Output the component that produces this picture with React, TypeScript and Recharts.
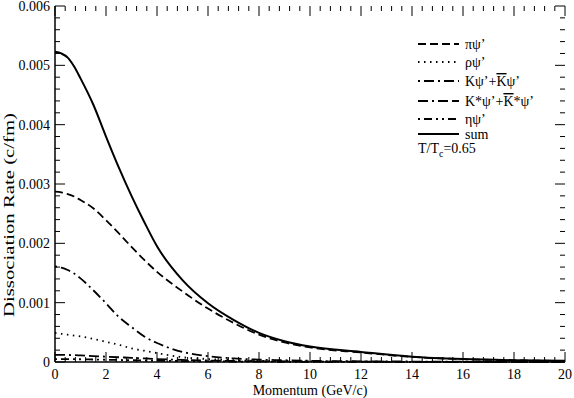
import React from "react";
import { LineChart, Line, XAxis, YAxis, ReferenceLine } from "recharts";

// momentum grid (GeV/c) and dissociation rates (c/fm)
const MOMENTUM = [0, 0.25, 0.5, 0.75, 1, 1.5, 2, 2.5, 3, 3.5, 4, 5, 6, 7, 8, 9, 10, 12, 14, 16, 18, 20];
const PI_PSI = [0.00287, 0.00286, 0.00283, 0.00279, 0.00273, 0.00259, 0.00239, 0.00217, 0.00194, 0.00172, 0.00152, 0.00119, 0.0009, 0.00066, 0.00046, 0.00033, 0.000245, 0.00016, 0.000085, 0.000048, 0.000028, 0.000018];
const RHO_PSI = [0.00049, 0.000475, 0.00046, 0.000445, 0.00043, 0.00039, 0.00034, 0.00029, 0.00023, 0.00019, 0.00015, 0.00008, 0.00005, 0.00003, 0.00002, 0.000013, 0.000009, 0.000005, 0.000003, 0.000002, 0.000001, 0.000001];
const K_PSI = [0.00161, 0.00159, 0.00155, 0.00149, 0.00141, 0.00121, 0.00099, 0.00076, 0.00059, 0.00043, 0.00032, 0.00017, 0.0001, 0.00006, 0.00004, 0.00003, 0.00002, 0.000012, 0.000008, 0.000005, 0.000003, 0.000002];
const KSTAR_PSI = [0.00012, 0.000119, 0.000118, 0.000115, 0.00011, 0.0001, 0.00009, 0.00008, 0.00007, 0.00006, 0.00005, 0.000035, 0.000025, 0.000018, 0.000013, 0.00001, 0.000008, 0.000005, 0.000003, 0.000002, 0.0000015, 0.000001];
const ETA_PSI = [0.00005, 0.0000495, 0.000049, 0.0000475, 0.000046, 0.000042, 0.000038, 0.000034, 0.00003, 0.000026, 0.000022, 0.000016, 0.000011, 0.000008, 0.000006, 0.000004, 0.000003, 0.000002, 0.000001, 0.000001, 0.0000005, 0.0000003];
const SUM = [0.00523, 0.0052, 0.00513, 0.00498, 0.00478, 0.00434, 0.0038, 0.00328, 0.0028, 0.00236, 0.00195, 0.00138, 0.00099, 0.00071, 0.00049, 0.00035, 0.00026, 0.00017, 0.00009, 0.00005, 0.00003, 0.00002];

const X_MAJOR = [0, 2, 4, 6, 8, 10, 12, 14, 16, 18, 20];
const X_MINOR = Array.from({ length: 51 }, (_, i) => +(i * 0.4).toFixed(1));
const Y_MAJOR = [0, 0.001, 0.002, 0.003, 0.004, 0.005, 0.006];
const Y_MINOR = Array.from({ length: 31 }, (_, i) => +(i * 0.0002).toFixed(4));

const X_MAX = 20;
const Y_MAX = 0.006;

const data = MOMENTUM.map((p, i) => ({
  p,
  pi: PI_PSI[i],
  rho: RHO_PSI[i],
  k: K_PSI[i],
  kstar: KSTAR_PSI[i],
  eta: ETA_PSI[i],
  sum: SUM[i],
}));

const FONT = "'Liberation Serif', 'DejaVu Serif', serif";
const TICK_FONT = { fontFamily: FONT, fontSize: 14, fill: "#000" };
const FRAME = { stroke: "#000", strokeWidth: 1.5 };

// plot box in px, used only to turn tick lengths into data units
const PLOT_W = 510;
const PLOT_H = 356;
const isMajor = (v: number, step: number) => Math.abs(v / step - Math.round(v / step)) < 1e-6;
const xLen = (v: number) => ((isMajor(v, 2) ? 10 : 5) * Y_MAX) / PLOT_H;
const yLen = (v: number) => ((isMajor(v, 0.001) ? 10 : 5) * X_MAX) / PLOT_W;

const series = [
  { key: "pi", dash: "8 4", label: "πψ’" },
  { key: "rho", dash: "1.5 4.5", label: "ρψ’" },
  { key: "k", dash: "2 4 10 4", label: "k" },
  { key: "kstar", dash: "10 4 2 4 10 4", label: "kstar" },
  { key: "eta", dash: "2 4 8 4 2 4", label: "ηψ’" },
  { key: "sum", dash: undefined, label: "sum" },
];

function LegendLabel({ k }: { k: string }) {
  if (k === "k")
    return (
      <>
        Kψ’+<tspan style={{ textDecoration: "overline" }}>K</tspan>ψ’
      </>
    );
  if (k === "kstar")
    return (
      <>
        K*ψ’+<tspan style={{ textDecoration: "overline" }}>K</tspan>*ψ’
      </>
    );
  return <>{series.find((s) => s.key === k)?.label}</>;
}

const LEGEND_Y = [44, 62, 81, 101, 119, 134];

export default function App() {
  return (
    <div style={{ position: "absolute", left: 0, top: 0, width: 574, height: 398, background: "#fff" }}>
      <LineChart width={574} height={398} data={data} margin={{ top: 6, right: 9, left: 0, bottom: 0 }}>
        <XAxis
          xAxisId="b"
          dataKey="p"
          type="number"
          domain={[0, X_MAX]}
          ticks={X_MAJOR}
          interval={0}
          height={36}
          tickSize={0}
          tickMargin={7}
          tickLine={false}
          axisLine={FRAME}
          tick={TICK_FONT}
          label={{
            value: "Momentum (GeV/c)",
            position: "insideBottom",
            offset: 3,
            style: { fontFamily: FONT, fontSize: 14, fill: "#000" },
          }}
        />
        <XAxis
          xAxisId="t"
          dataKey="p"
          type="number"
          orientation="top"
          mirror
          height={0}
          domain={[0, X_MAX]}
          tick={false}
          tickLine={false}
          axisLine={FRAME}
        />
        <YAxis
          yAxisId="l"
          type="number"
          domain={[0, Y_MAX]}
          ticks={Y_MAJOR}
          interval={0}
          width={55}
          tickSize={0}
          tickMargin={5}
          tickLine={false}
          axisLine={FRAME}
          tick={TICK_FONT}
          tickFormatter={(v: number) => (v === 0 ? "0" : v.toFixed(3))}
          label={{
            content: () => (
              <text
                x={9}
                y={215}
                transform="rotate(-90 9 215)"
                textAnchor="middle"
                dominantBaseline="central"
                fontFamily={FONT}
                fontSize={15}
                textLength={204}
                lengthAdjust="spacingAndGlyphs"
                fill="#000"
              >
                Dissociation Rate (c/fm)
              </text>
            ),
          }}
        />
        <YAxis
          yAxisId="r"
          type="number"
          orientation="right"
          mirror
          width={0}
          domain={[0, Y_MAX]}
          tick={false}
          tickLine={false}
          axisLine={FRAME}
        />
        {/* inward ticks on all four sides */}
        {X_MINOR.map((v) => (
          <ReferenceLine
            key={`xb${v}`}
            xAxisId="b"
            yAxisId="l"
            ifOverflow="visible"
            segment={[{ x: v, y: 0 }, { x: v, y: xLen(v) }]}
            stroke="#000"
            strokeWidth={1}
          />
        ))}
        {X_MINOR.map((v) => (
          <ReferenceLine
            key={`xt${v}`}
            xAxisId="b"
            yAxisId="l"
            ifOverflow="visible"
            segment={[{ x: v, y: Y_MAX }, { x: v, y: Y_MAX - xLen(v) }]}
            stroke="#000"
            strokeWidth={1}
          />
        ))}
        {Y_MINOR.map((v) => (
          <ReferenceLine
            key={`yl${v}`}
            xAxisId="b"
            yAxisId="l"
            ifOverflow="visible"
            segment={[{ x: 0, y: v }, { x: yLen(v), y: v }]}
            stroke="#000"
            strokeWidth={1}
          />
        ))}
        {Y_MINOR.map((v) => (
          <ReferenceLine
            key={`yr${v}`}
            xAxisId="b"
            yAxisId="l"
            ifOverflow="visible"
            segment={[{ x: X_MAX, y: v }, { x: X_MAX - yLen(v), y: v }]}
            stroke="#000"
            strokeWidth={1}
          />
        ))}
        {series.map((s) => (
          <Line
            key={s.key}
            xAxisId="b"
            yAxisId="l"
            type="monotone"
            dataKey={s.key}
            stroke="#000"
            strokeWidth={s.key === "sum" ? 2 : 1.8}
            strokeDasharray={s.dash}
            dot={false}
            activeDot={false}
            isAnimationActive={false}
          />
        ))}
      </LineChart>
      <svg width={574} height={398} style={{ position: "absolute", left: 0, top: 0, pointerEvents: "none" }}>
        {series.map((s, i) => (
          <g key={s.key}>
            <line x1={418} x2={459} y1={LEGEND_Y[i]} y2={LEGEND_Y[i]} stroke="#000" strokeWidth={s.key === "sum" ? 2 : 1.8} strokeDasharray={s.dash} />
            <text x={465} y={LEGEND_Y[i] + 5} fontFamily={FONT} fontSize={14} fill="#000">
              <LegendLabel k={s.key} />
            </text>
          </g>
        ))}
        <text x={418} y={153} fontFamily={FONT} fontSize={14} fill="#000">
          T/T<tspan fontSize={10} dy={4}>c</tspan>
          <tspan dy={-4}>=0.65</tspan>
        </text>
      </svg>
    </div>
  );
}
